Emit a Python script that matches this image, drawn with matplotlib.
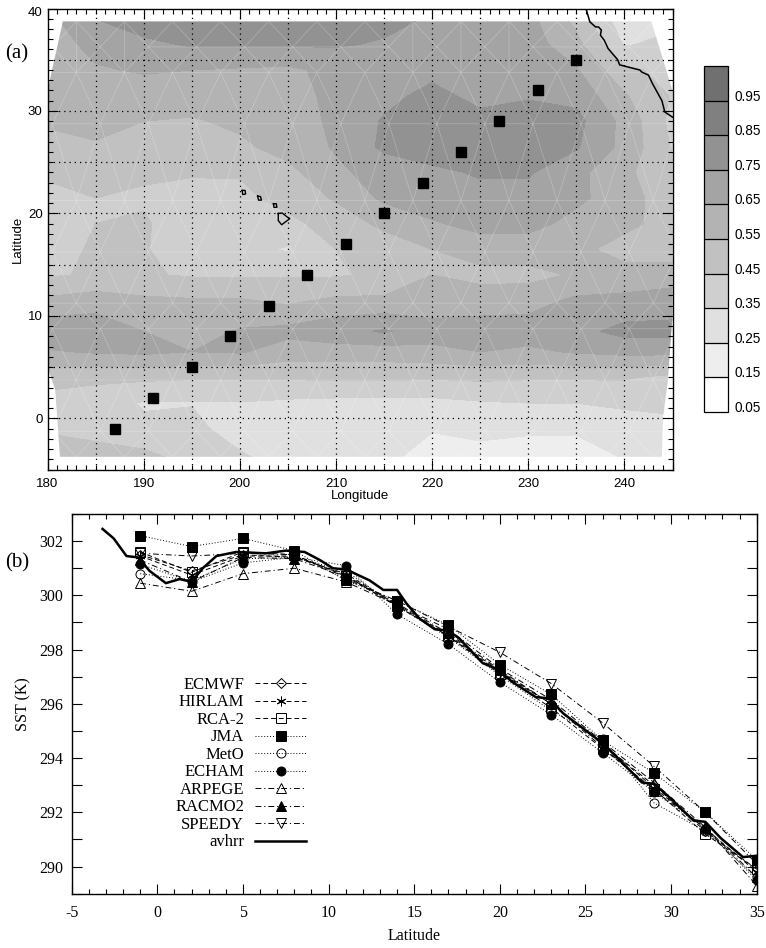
#!/usr/bin/env python3
import numpy as np
import matplotlib
matplotlib.use('Agg')
import matplotlib.pyplot as plt
from matplotlib.patches import Polygon
from matplotlib.transforms import ScaledTranslation
from matplotlib.tri import Triangulation

plt.rcParams['font.family'] = ['Liberation Sans', 'DejaVu Sans']
plt.rcParams['axes.unicode_minus'] = False

# panel (a): gridded field
lon_nodes = [180, 185, 190, 195, 200, 205, 210, 215, 220, 225, 230, 235, 240, 245]
lat_nodes = [39, 36.5, 34, 31.5, 29, 26.5, 24, 21.5, 19, 16.5, 14, 11.5, 8.5, 6.5, 4, 1.5, -1, -4]
field = [
    [.62, .75, .80, .82, .82, .82, .80, .78, .74, .72, .68, .52, .28, .32],
    [.60, .68, .73, .76, .76, .76, .76, .74, .72, .71, .70, .58, .34, .38],
    [.60, .64, .66, .65, .64, .63, .68, .70, .72, .72, .72, .66, .47, .42],
    [.58, .60, .60, .60, .60, .62, .67, .72, .78, .72, .74, .72, .56, .44],
    [.57, .58, .55, .54, .57, .60, .67, .76, .80, .78, .80, .78, .62, .42],
    [.50, .54, .50, .50, .53, .59, .66, .77, .80, .80, .80, .76, .62, .44],
    [.46, .47, .46, .46, .46, .52, .63, .69, .73, .76, .76, .68, .57, .48],
    [.43, .45, .44, .41, .42, .49, .56, .67, .70, .72, .72, .67, .60, .48],
    [.38, .45, .46, .40, .39, .42, .50, .57, .64, .68, .68, .62, .57, .52],
    [.42, .46, .46, .38, .38, .34, .45, .50, .55, .60, .60, .57, .52, .50],
    [.44, .46, .46, .44, .44, .44, .44, .47, .55, .52, .52, .56, .58, .60],
    [.57, .60, .57, .56, .56, .53, .57, .57, .58, .60, .61, .67, .68, .70],
    [.72, .72, .65, .60, .66, .68, .72, .76, .70, .70, .70, .72, .78, .78],
    [.64, .66, .67, .65, .66, .60, .60, .60, .62, .65, .63, .66, .68, .68],
    [.48, .47, .47, .46, .46, .46, .47, .47, .46, .47, .46, .46, .46, .42],
    [.42, .40, .34, .345, .345, .33, .32, .32, .32, .34, .35, .35, .37, .39],
    [.43, .40, .37, .38, .30, .28, .28, .27, .26, .27, .27, .27, .29, .30],
    [.55, .52, .49, .42, .37, .31, .30, .28, .18, .22, .18, .18, .25, .27],
]
levels = [0.05, 0.15, 0.25, 0.35, 0.45, 0.55, 0.65, 0.75, 0.85, 0.95, 1.05]
greys = ['#ffffff', '#eeeeee', '#e0e0e0', '#cfcfcf', '#c1c1c1', '#b3b3b3',
         '#a4a4a4', '#929292', '#808080', '#707070']
domain_edge = [(181.6, 38.75), (242.8, 38.75), (245, 32), (245, 10), (244.5, 3.5), (244, 0),
               (243.9, -3.75), (181.3, -3.75), (180.8, 2.8), (180, 5), (180, 32)]
mesh_rows = [38.75, 36.25, 33.75, 28.75, 21.25, 16.25, 11.25, 8.75, 3.75, -1.25, -3.75]

station_lon = [187, 191, 195, 199, 203, 207, 211, 215, 219, 223, 227, 231, 235]
station_lat = [-1, 2, 5, 8, 11, 14, 17, 20, 23, 26, 29, 32, 35]

coast_lon = [236.05, 236.4, 237.0, 237.3, 237.6, 237.5, 237.9, 238.3, 239.3, 239.5, 241.6, 241.8, 242.5, 242.9, 243.9, 244.2, 245]
coast_lat = [39.85, 38.7, 38.2, 38.2, 37.9, 37.4, 36.9, 36.1, 35.0, 34.5, 34.0, 33.8, 33.5, 32.7, 31.0, 29.9, 29.4]
islands = [
    ([204.0, 204.4, 204.87, 205.2, 204.35, 204.0, 204.0], [20.0, 20.05, 19.7, 19.5, 18.9, 19.3, 20.0]),
    ([203.5, 203.8, 203.85, 203.55, 203.5], [20.95, 20.95, 20.6, 20.6, 20.95]),
    ([201.85, 202.15, 202.25, 201.95, 201.85], [21.7, 21.65, 21.3, 21.3, 21.7]),
    ([200.25, 200.55, 200.6, 200.3, 200.25], [22.25, 22.25, 21.9, 21.85, 22.25]),
]

# panel (b): SST along the transect
sect_lat = [-1, 2, 5, 8, 11, 14, 17, 20, 23, 26, 29, 32, 35]
ecmwf = [301.5, 300.9, 301.5, 301.4, 300.8, 299.65, 298.55, 297.2, 296.0, 294.5, 293.0, 291.3, 289.9]
hirlam = [301.45, 300.75, 301.45, 301.45, 300.75, 299.6, 298.5, 297.15, 296.0, 294.55, 292.9, 291.4, 289.8]
rca2 = [301.6, 300.85, 301.6, 301.5, 300.7, 299.6, 298.5, 297.1, 295.85, 294.35, 292.85, 291.2, 289.9]
jma = [302.2, 301.8, 302.1, 301.65, 300.55, 299.8, 298.9, 297.45, 296.35, 294.65, 293.45, 292.0, 290.25]
meto = [300.8, 300.55, 301.35, 301.4, 300.9, 299.6, 298.45, 297.05, 295.75, 294.7, 292.35, 291.3, 289.6]
echam = [301.15, 300.5, 301.2, 301.4, 301.1, 299.3, 298.2, 296.8, 295.6, 294.2, 292.75, 291.4, 289.5]
arpege = [300.45, 300.15, 300.8, 301.0, 300.5, 299.65, 298.75, 297.3, 296.15, 294.6, 293.1, 291.45, 289.3]
racmo2 = [301.3, 300.5, 301.4, 301.35, 300.7, 299.7, 298.6, 297.25, 296.0, 294.4, 292.8, 291.45, 289.6]
speedy = [301.55, 301.45, 301.55, 301.5, 300.6, 299.8, 298.85, 297.9, 296.75, 295.3, 293.7, 292.0, 290.1]

avhrr_lat = [-3.2, -2.55, -1.8, -1.13, -0.45, 0.5, 1.3, 2, 2.65, 3.45, 4.6, 6.35, 7.5, 8.6, 9.5, 10.25, 11.05,
             12.4, 13.2, 14, 14.55, 15.3, 16.2, 17, 17.65, 19, 19.8, 20.75, 22.1, 22.9, 23.7, 26, 27.2, 28.3,
             29, 30, 31.3, 32, 32.9, 34.2, 35]
avhrr = [302.45, 302.1, 301.45, 301.4, 300.9, 300.45, 300.6, 300.5, 301.0, 301.45, 301.6, 301.55, 301.65, 301.6,
         301.3, 301.0, 300.95, 300.55, 300.2, 300.2, 299.7, 299.15, 298.75, 298.7, 298.4, 297.5, 297.3, 296.8,
         296.25, 296.2, 295.65, 294.55, 293.8, 293.1, 293.05, 292.5, 291.7, 291.65, 291.05, 290.35, 290.4]

W, H = 766.0, 948.0


def px_axes(fig, left, top, right, bottom):
    return fig.add_axes([left / W, 1 - bottom / H, (right - left) / W, (bottom - top) / H])


def nudge_down(fig, label, pixels):
    label.set_transform(label.get_transform() + ScaledTranslation(0, -pixels / 100, fig.dpi_scale_trans))


def draw_mesh(ax, clip):
    xs, ys = [], []
    for i, lat in enumerate(mesh_rows):
        for lon in np.arange(178.0 + 2.5 * (i % 2), 250, 5.0):
            xs.append(lon)
            ys.append(lat)
    lines = ax.triplot(Triangulation(xs, ys), color='white', lw=0.5, alpha=0.28)
    for ln in lines:
        ln.set_clip_path(clip)


def draw_map(fig):
    ax = px_axes(fig, 47.5, 8.5, 672.5, 469.7)
    clip = Polygon(domain_edge, closed=True, transform=ax.transData, fc='none', ec='none')
    ax.add_patch(clip)
    cs = ax.contourf(lon_nodes, lat_nodes, np.array(field), levels=levels, colors=greys)
    cs.set_clip_path(clip)
    draw_mesh(ax, clip)

    for v in range(185, 245, 5):
        ax.axvline(v, color='k', lw=0.9, ls=(0, (1, 3.2)))
    for v in range(-0, 40, 5):
        ax.axhline(v, color='k', lw=0.9, ls=(0, (1, 3.2)))

    ax.plot(coast_lon, coast_lat, color='k', lw=1.1)
    for ilon, ilat in islands:
        ax.plot(ilon, ilat, color='k', lw=1.0)
    ax.plot(station_lon, station_lat, ls='none', marker='s', ms=7.8, color='k')

    ax.set_xlim(180, 245)
    ax.set_ylim(-5, 40)
    ax.set_xticks(range(180, 245, 10))
    ax.set_xticks(range(180, 246), minor=True)
    ax.set_yticks(range(0, 41, 10))
    ax.set_yticks(range(-5, 41), minor=True)
    ax.tick_params(which='major', direction='in', top=True, right=True, length=7, width=0.8, labelsize=9.5)
    ax.tick_params(which='minor', direction='in', top=True, right=True, length=3.6, width=0.8)
    ax.tick_params(axis='x', which='major', pad=6)
    ax.tick_params(axis='y', which='major', pad=3.5)
    for s in ax.spines.values():
        s.set_linewidth(1.0)
    ax.set_xlabel('Longitude', fontsize=9.5, labelpad=0)
    ax.set_ylabel('Latitude', fontsize=9.5, labelpad=3)
    nudge_down(fig, ax.get_yticklabels()[-1], 3)

    cax = px_axes(fig, 704, 66, 727.5, 412)
    cb = fig.colorbar(cs, cax=cax, ticks=levels[:-1], drawedges=True)
    cb.ax.set_yticklabels(['%.2f' % v for v in levels[:-1]], fontsize=9.8)
    cb.ax.tick_params(length=0, pad=5)
    for lab in cb.ax.get_yticklabels():
        lab.set_verticalalignment('bottom')
        nudge_down(fig, lab, 3)
    cb.dividers.set_linewidth(0.9)
    cb.outline.set_linewidth(0.9)
    fig.text(5 / W, 1 - 54 / H, '(a)', family='Liberation Serif', fontsize=15, va='center')


def draw_section(fig):
    ax = px_axes(fig, 71.7, 514, 756.7, 893.7)
    thin = 0.7
    series = [
        ('ECMWF', ecmwf, (0, (5, 3)), 'D', 'none', 5.5),
        ('HIRLAM', hirlam, (0, (5, 3)), (6, 2, 0), 'none', 7),
        ('RCA-2', rca2, (0, (5, 3)), 's', 'none', 6.5),
        ('JMA', jma, (0, (1, 2)), 's', 'k', 6.5),
        ('MetO', meto, (0, (1, 2)), 'o', 'none', 6.5),
        ('ECHAM', echam, (0, (1, 2)), 'o', 'k', 6.5),
        ('ARPEGE', arpege, (0, (6, 3, 1.2, 3)), '^', 'none', 6.5),
        ('RACMO2', racmo2, (0, (6, 3, 1.2, 3)), '^', 'k', 6.5),
        ('SPEEDY', speedy, (0, (6, 3, 1.2, 3)), 'v', 'none', 6.5),
    ]
    for name, vals, ls, mk, fc, ms in series:
        ax.plot(sect_lat, vals, color='k', lw=thin, ls=ls, marker=mk, ms=ms, mfc=fc, mec='k', mew=0.7, label=name)
    ax.plot(avhrr_lat, avhrr, color='k', lw=1.8, label='avhrr')

    ax.set_xlim(-5, 35)
    ax.set_ylim(289, 303)
    ax.set_xticks(range(-5, 36, 5))
    ax.set_xticks(range(-5, 36), minor=True)
    ax.set_yticks(range(290, 303, 2))
    ax.set_yticks(range(289, 304), minor=True)
    ax.tick_params(axis='both', which='major', direction='in', top=True, right=True, length=7, width=0.8,
                   labelsize=11.5, pad=6)
    ax.tick_params(axis='x', which='major', pad=8)
    ax.tick_params(axis='x', which='minor', direction='in', top=True, length=3.6, width=0.8)
    ax.tick_params(axis='y', which='minor', direction='in', right=True, length=7, width=0.8)
    for lab in ax.get_xticklabels() + ax.get_yticklabels():
        lab.set_family('Liberation Serif')
    for s in ax.spines.values():
        s.set_linewidth(1.0)
    ax.set_xlabel('Latitude', family='Liberation Serif', fontsize=11.5, labelpad=5)
    ax.set_ylabel('SST (K)', family='Liberation Serif', fontsize=11.5, labelpad=6)

    ax.legend(loc='upper left', bbox_to_anchor=(0.151, 0.571), frameon=False, markerfirst=False,
              handlelength=3.06, handletextpad=0.66, labelspacing=0.09, borderpad=0, borderaxespad=0,
              prop={'family': 'Liberation Serif', 'size': 12})
    fig.text(5 / W, 1 - 563 / H, '(b)', family='Liberation Serif', fontsize=15, va='center')


def main():
    fig = plt.figure(figsize=(W / 100, H / 100), dpi=100)
    draw_map(fig)
    draw_section(fig)
    fig.savefig('out.png', dpi=100)


if __name__ == "__main__":
    main()
